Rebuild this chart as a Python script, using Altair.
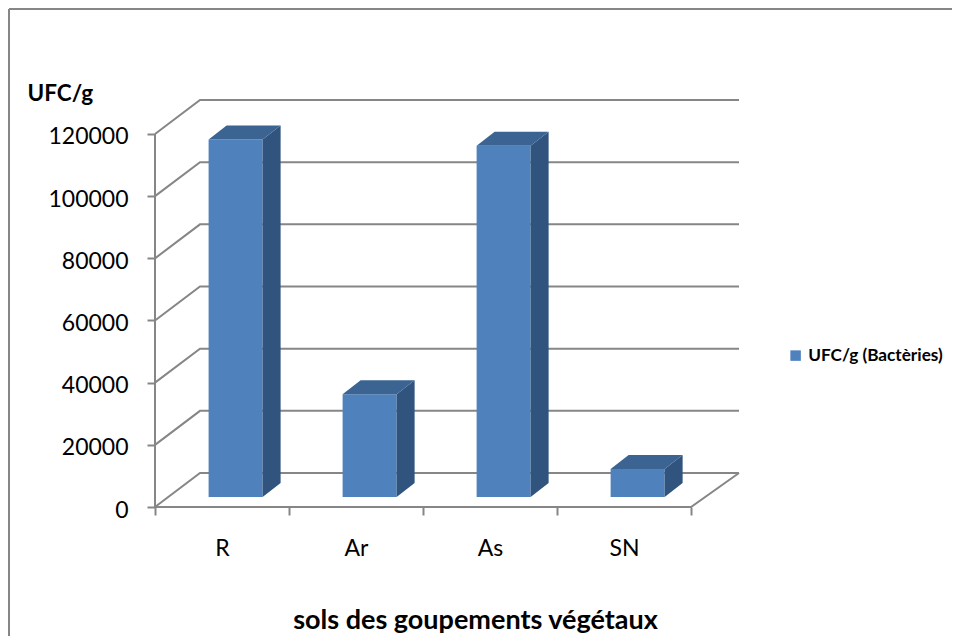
import json
import altair as alt
import pandas as pd

categories = ["R", "Ar", "As", "SN"]
values = [115000, 33100, 113000, 9000]
grid_levels = [0, 20000, 40000, 60000, 80000, 100000, 120000]
x_ticks = [0, 1, 2, 3, 4]
series_name = "UFC/g (Bactèries)"

FONT = "Lato"
GREY = "#868686"
FRONT = "#4F81BD"
SIDE = "#31547E"
TOP = "#3B6492"

# 3D projection constants, in data units
Y_MAX = 130938
X_MAX = 4.358
WALL_DX = 45 / 134
WALL_DY = 10938
BAR_L = 0.40
BAR_R = 0.803
BAR_BASE = 3200
BAR_DX = 18 / 134
BAR_DY = 4500

x_s = alt.Scale(domain=[0, X_MAX], nice=False, zero=False)
y_s = alt.Scale(domain=[0, Y_MAX], nice=False, zero=False)

label_expr = json.dumps(categories + [""]) + "[datum.value]"
x_axis = alt.Axis(
    values=x_ticks,
    labelExpr=label_expr,
    labelOffset=67,
    labelAngle=0,
    labelPadding=22,
    labelFont=FONT,
    labelFontSize=23,
    labelColor="#000000",
    labelFlush=False,
    labelOverlap=False,
    grid=False,
    domain=False,
    tickColor=GREY,
    tickWidth=2,
    tickSize=8,
    title="sols des goupements végétaux",
    titleFont=FONT,
    titleFontSize=27,
    titleFontWeight="bold",
    titleColor="#000000",
    titleX=320,
    titleY=113,
    titleAlign="center",
    titleBaseline="middle",
)
y_axis = alt.Axis(
    values=grid_levels,
    format="d",
    labelFont=FONT,
    labelFontSize=23,
    labelColor="#000000",
    labelPadding=19,
    labelOffset=3,
    labelFlush=False,
    labelOverlap=False,
    grid=False,
    domain=False,
    tickColor=GREY,
    tickWidth=2,
    tickSize=8,
    title="UFC/g",
    titleFont=FONT,
    titleFontSize=22.5,
    titleFontWeight="bold",
    titleColor="#000000",
    titleAngle=0,
    titleX=-128,
    titleY=-7,
    titleAlign="left",
    titleBaseline="middle",
)
X = alt.X("x:Q", scale=x_s, axis=x_axis)
Y = alt.Y("y:Q", scale=y_s, axis=y_axis)

# walls and floor
grid_rows = []
for v in grid_levels:
    for i, (x, y) in enumerate([(0, v), (WALL_DX, v + WALL_DY), (X_MAX, v + WALL_DY)]):
        grid_rows.append({"g": f"g{v}", "o": i, "x": x, "y": y})
for i, (x, y) in enumerate([(X_MAX, WALL_DY), (4, 0), (0, 0)]):
    grid_rows.append({"g": "floor", "o": i, "x": x, "y": y})
for i, (x, y) in enumerate([(0, 0), (0, 120000)]):
    grid_rows.append({"g": "axis", "o": i, "x": x, "y": y})
grid = alt.Chart(pd.DataFrame(grid_rows)).mark_line(
    color=GREY, strokeWidth=2, clip=False
).encode(x=X, y=Y, detail="g:N", order="o:Q")

# bar faces
front_rows, side_rows, top_rows = [], [], []
for i, (c, v) in enumerate(zip(categories, values)):
    l, r = i + BAR_L, i + BAR_R
    t = BAR_BASE + v
    front_rows.append({"cat": c, "x": l, "x2": r, "y": BAR_BASE, "y2": t, "s": series_name})
    side_rows += [
        {"cat": c, "x": r, "y": BAR_BASE, "y2": t},
        {"cat": c, "x": r + BAR_DX, "y": BAR_BASE + BAR_DY, "y2": t + BAR_DY},
    ]
    top_rows += [
        {"cat": c, "x": l, "y": t, "y2": t},
        {"cat": c, "x": l + BAR_DX, "y": t, "y2": t + BAR_DY},
        {"cat": c, "x": r, "y": t, "y2": t + BAR_DY},
        {"cat": c, "x": r + BAR_DX, "y": t + BAR_DY, "y2": t + BAR_DY},
    ]

side = alt.Chart(pd.DataFrame(side_rows)).mark_area(color=SIDE, opacity=1).encode(
    x=X, y=Y, y2="y2:Q", detail="cat:N"
)
top = alt.Chart(pd.DataFrame(top_rows)).mark_area(color=TOP, opacity=1).encode(
    x=X, y=Y, y2="y2:Q", detail="cat:N"
)
front = alt.Chart(pd.DataFrame(front_rows)).mark_rect().encode(
    x=X,
    x2="x2:Q",
    y=Y,
    y2="y2:Q",
    color=alt.Color(
        "s:N",
        scale=alt.Scale(range=[FRONT]),
        legend=alt.Legend(
            orient="none",
            legendX=632,
            legendY=247,
            title=None,
            symbolType="square",
            symbolSize=110,
            symbolStrokeWidth=0,
            labelFont=FONT,
            labelFontSize=17.2,
            labelFontWeight="bold",
            labelColor="#000000",
            labelLimit=300,
        ),
    ),
)

# outer frame: the canvas starts at the page margin, so the top edge sits at its very top
frame_top = alt.Chart(pd.DataFrame({"a": [0]})).mark_rule(color=GREY, strokeWidth=2).encode(
    x=alt.value(-146), x2=alt.value(797), y=alt.value(-91)
)
frame_left = alt.Chart(pd.DataFrame({"a": [0]})).mark_rule(color=GREY, strokeWidth=2).encode(
    x=alt.value(-146), y=alt.value(-91), y2=alt.value(536)
)

chart = (
    alt.layer(frame_top, frame_left, grid, front, side, top)
    .resolve_scale(x="shared", y="shared")
    .properties(
        width=584,
        height=407,
        autosize="none",
        padding={"left": 147, "top": 92, "right": 213, "bottom": 137},
        background="white",
    )
    .configure_view(stroke=None)
)
chart.save("out.html", embed_options={"renderer": "svg", "actions": False})
